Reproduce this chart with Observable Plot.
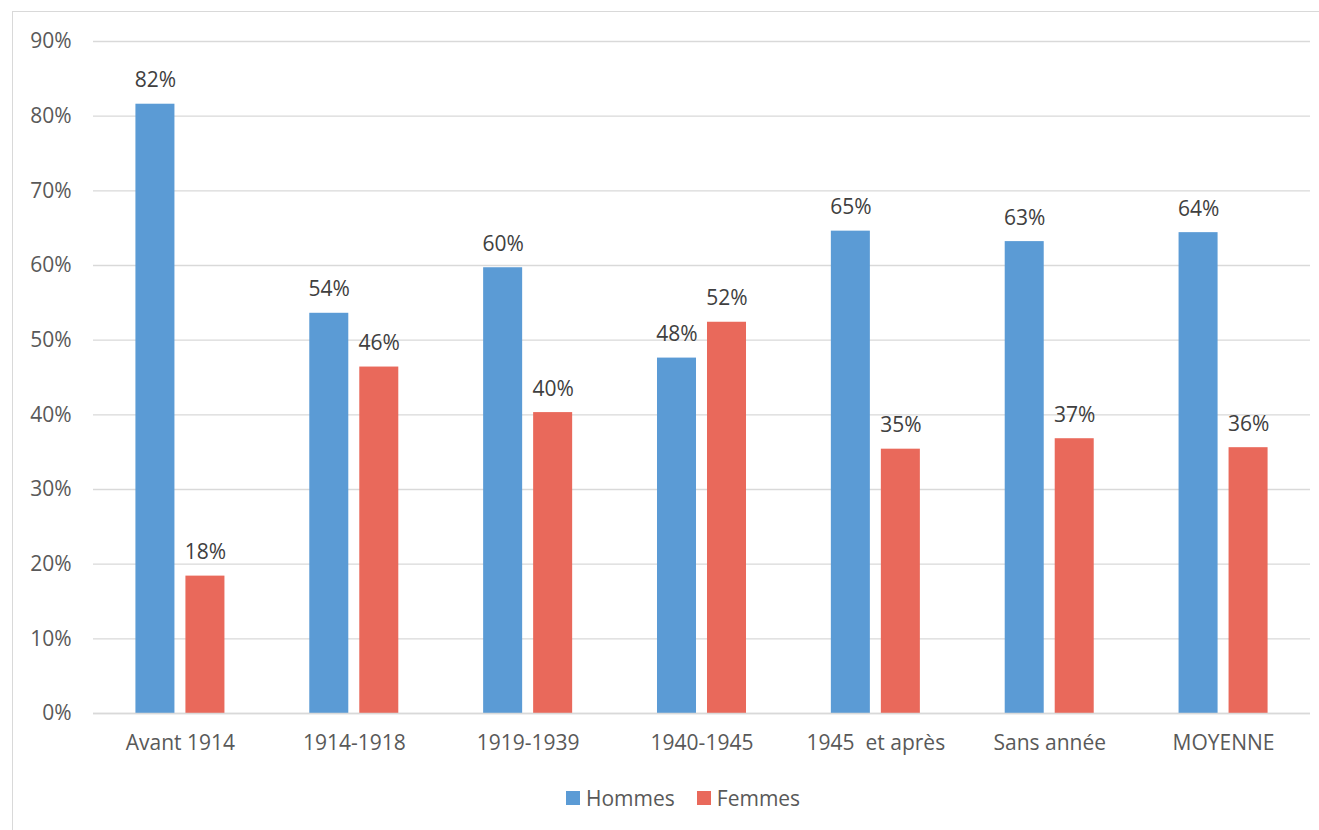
<!DOCTYPE html>
<html>
<head>
<meta charset="utf-8">
<script src="https://cdn.jsdelivr.net/npm/d3@7"></script>
<script src="https://cdn.jsdelivr.net/npm/@observablehq/plot@0.6"></script>
<style>
  html, body { margin: 0; padding: 0; background: #fff; overflow: hidden; }
  body { width: 1319px; height: 830px; position: relative; font-family: "Open Sans", sans-serif; }
  #frame { position: absolute; left: 12px; top: 11px; width: 1400px; height: 900px; border: 1px solid #d9d9d9; box-sizing: border-box; }
  #chart { position: absolute; left: 0; top: 0; }
  #legend { position: absolute; top: 784px; left: 566px; display: flex; align-items: center; font-size: 21px; color: #595959; }
  .sw { width: 14px; height: 14px; display: inline-block; margin-right: 6px; }
  .item { display: flex; align-items: center; margin-right: 22px; }
</style>
</head>
<body>
<div id="frame"></div>
<div id="chart"></div>
<div id="legend"></div>
<script>
const categories = ["Avant 1914", "1914-1918", "1919-1939", "1940-1945", "1945  et après", "Sans année", "MOYENNE"];
const series = ["Hommes", "Femmes"];
const hommes = [81.6, 53.6, 59.7, 47.6, 64.6, 63.2, 64.4];
const femmes = [18.4, 46.4, 40.3, 52.4, 35.4, 36.8, 35.6];
const colors = ["#5B9BD5", "#E9695B"];
const yTicks = [0, 10, 20, 30, 40, 50, 60, 70, 80, 90];

const dataH = categories.map((c, i) => ({category: c, value: hommes[i]}));
const dataF = categories.map((c, i) => ({category: c, value: femmes[i]}));
const fmt = d => Math.round(d) + "%";

const plot = Plot.plot({
  width: 1319,
  height: 760,
  marginTop: 41,
  marginBottom: 47,
  marginLeft: 93,
  marginRight: 9,
  style: {fontFamily: "Open Sans, sans-serif", fontSize: "21px", color: "#595959", background: "transparent"},
  x: {domain: categories, paddingInner: 0.488, paddingOuter: 0.244, round: false, label: null},
  y: {domain: [0, 90], label: null},
  marks: [
    Plot.gridY(yTicks, {stroke: "#d9d9d9", strokeOpacity: 1, strokeWidth: 1.3}),
    Plot.axisY(yTicks, {tickSize: 0, tickPadding: 22, tickFormat: d => d + "%", fill: "#595959", fontSize: 21, label: null}),
    Plot.axisX({tickSize: 0, tickPadding: 22, fill: "#595959", fontSize: 21, label: null}),
    Plot.barY(dataH, {x: "category", y: "value", fill: colors[0], insetRight: 50}),
    Plot.barY(dataF, {x: "category", y: "value", fill: colors[1], insetLeft: 50}),
    Plot.ruleY([0], {stroke: "#d9d9d9", strokeWidth: 1.5}),
    Plot.text(dataH, {x: "category", y: "value", text: d => fmt(d.value), dx: -25, dy: -17, lineAnchor: "bottom", fill: "#404040", fontSize: 21}),
    Plot.text(dataF, {x: "category", y: "value", text: d => fmt(d.value), dx: 25, dy: -17, lineAnchor: "bottom", fill: "#404040", fontSize: 21})
  ]
});
document.getElementById("chart").appendChild(plot);

const legend = document.getElementById("legend");
series.forEach((s, i) => {
  const item = document.createElement("div");
  item.className = "item";
  const sw = document.createElement("span");
  sw.className = "sw";
  sw.style.background = colors[i];
  item.appendChild(sw);
  const t = document.createElement("span");
  t.textContent = s;
  item.appendChild(t);
  legend.appendChild(item);
});
</script>
</body>
</html>
